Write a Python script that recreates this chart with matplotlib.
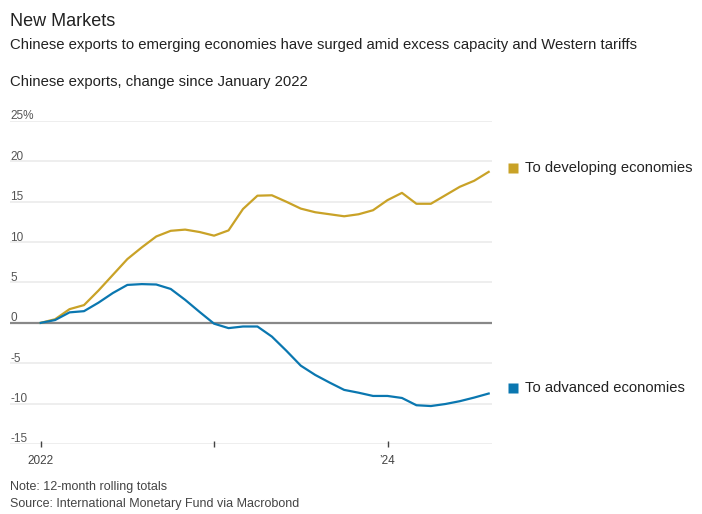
import numpy as np
import pandas as pd
import matplotlib.pyplot as plt

# monthly values, Jan 2022 - Aug 2024 (% change since Jan 2022)
months = pd.date_range('2022-01-01', periods=32, freq='MS')
developing = [0.0, 0.45, 1.7, 2.2, 4.0, 5.95, 7.9, 9.35, 10.7, 11.4, 11.55, 11.25,
              10.8, 11.45, 14.1, 15.75, 15.8, 15.0, 14.15, 13.7, 13.45, 13.2, 13.45, 13.95,
              15.2, 16.1, 14.75, 14.75, 15.8, 16.85, 17.6, 18.7]
advanced = [0.0, 0.35, 1.3, 1.45, 2.5, 3.7, 4.7, 4.8, 4.75, 4.2, 2.85, 1.35,
            -0.1, -0.65, -0.45, -0.45, -1.7, -3.45, -5.3, -6.45, -7.4, -8.3, -8.65, -9.05,
            -9.05, -9.3, -10.2, -10.3, -10.05, -9.7, -9.25, -8.75]
yticks = [-15, -10, -5, 0, 5, 10, 15, 20, 25]
ytick_labels = ['-15', '-10', '-5', '0', '5', '10', '15', '20', '25%']
xtick_years = ['2022-01-01', '2023-01-01', '2024-01-01']
xtick_labels = ['2022', '', '\u201924']

gold = '#c9a227'
blue = '#0a77b0'

plt.rcParams['font.family'] = ['Liberation Sans', 'DejaVu Sans']

fig = plt.figure(figsize=(7.02, 5.14), dpi=100)
ax = fig.add_axes([0.01425, 0.1362, 0.6866, 0.6284])

x = np.arange(len(months))
ax.plot(x, developing, color=gold, lw=1.6, solid_joinstyle='round', zorder=3)
ax.plot(x, advanced, color=blue, lw=1.6, solid_joinstyle='round', zorder=3)

ax.set_ylim(-15, 25)
ax.set_xlim(-2.12, 31.23)
for v, lab in zip(yticks, ytick_labels):
    ax.axhline(v, color='#888888' if v == 0 else '#ebebeb', lw=1.6 if v == 0 else 1.2, zorder=2 if v == 0 else 1)
    ax.text(0.0, v + 0.2, lab, transform=ax.get_yaxis_transform(),
            ha='left', va='baseline', fontsize=8.5, color='#555555')

for s in ax.spines.values():
    s.set_visible(False)
ax.set_yticks([])
tick_pos = [list(months).index(pd.Timestamp(d)) for d in xtick_years]
ax.set_xticks(tick_pos)
ax.set_xticklabels(xtick_labels, fontsize=8.5, color='#444444')
ax.tick_params(axis='x', length=4, width=1, color='#444444', pad=6, direction='inout')

# end-of-line labels
for yy, col, lab in [(19.2, gold, 'To developing economies'),
                     (-8.05, blue, 'To advanced economies')]:
    ax.plot([32.65], [yy], marker='s', ms=7.2, color=col, mec='none', clip_on=False)
    ax.text(33.5, yy, lab, color='#222222', fontsize=10.6, ha='left', va='center', clip_on=False)

fig.text(10 / 702, 1 - 22 / 514, 'New Markets', fontsize=13, color='#222222', va='center')
fig.text(10 / 702, 1 - 45 / 514,
         'Chinese exports to emerging economies have surged amid excess capacity and Western tariffs',
         fontsize=10.7, color='#222222', va='center')
fig.text(10 / 702, 1 - 82 / 514, 'Chinese exports, change since January 2022',
         fontsize=10.7, color='#222222', va='center')
fig.text(10 / 702, 1 - 487 / 514, 'Note: 12-month rolling totals', fontsize=9, color='#444444', va='center')
fig.text(10 / 702, 1 - 504 / 514, 'Source: International Monetary Fund via Macrobond',
         fontsize=9, color='#444444', va='center')

fig.savefig('out.png', dpi=100, facecolor='white')
